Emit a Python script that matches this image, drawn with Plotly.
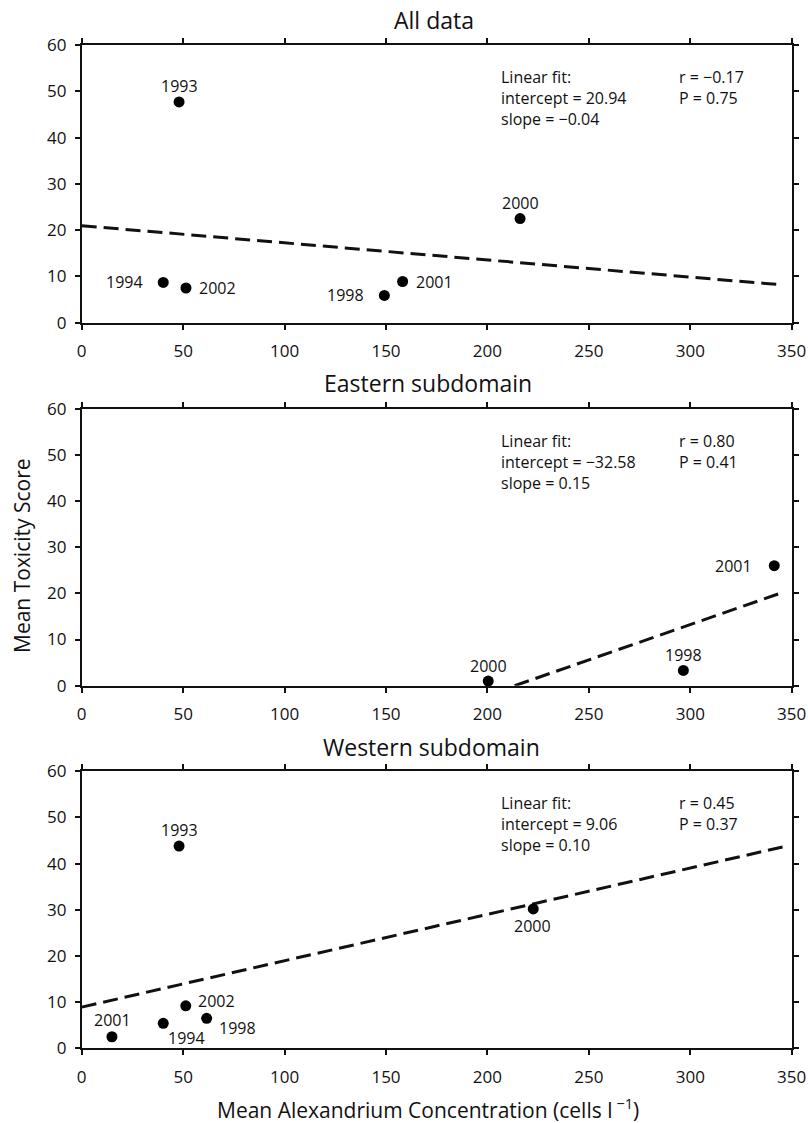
import numpy as np
import plotly.graph_objects as go

# ---------------- data ----------------
x_ticks = [0, 50, 100, 150, 200, 250, 300, 350]
y_ticks = [0, 10, 20, 30, 40, 50, 60]

panel_titles = ["All data", "Eastern subdomain", "Western subdomain"]

years_all = ["1993", "1994", "2002", "1998", "2001", "2000"]
conc_all = [48.0, 40.2, 51.4, 149.2, 158.2, 216.1]
tox_all = [47.7, 8.7, 7.5, 5.9, 8.9, 22.5]

years_east = ["2000", "1998", "2001"]
conc_east = [200.4, 296.6, 341.4]
tox_east = [1.0, 3.3, 26.0]

years_west = ["1993", "2001", "1994", "2002", "1998", "2000"]
conc_west = [48.0, 14.9, 40.2, 51.3, 61.6, 222.6]
tox_west = [43.8, 2.5, 5.4, 9.2, 6.5, 30.2]

fit_text_left = [
    ["Linear fit:", "intercept = 20.94", "slope = −0.04"],
    ["Linear fit:", "intercept = −32.58", "slope = 0.15"],
    ["Linear fit:", "intercept = 9.06", "slope = 0.10"],
]
fit_text_right = [
    ["r = −0.17", "P = 0.75"],
    ["r = 0.80", "P = 0.41"],
    ["r = 0.45", "P = 0.37"],
]
fit_x_end = 345.5

y_title = "Mean Toxicity Score"
x_title = "Mean Alexandrium Concentration (cells l<sup> −1</sup>)"

# ---------------- styles / layout ----------------
W, H = 808, 1123
FONT = "Open Sans"
INK = "#111111"
px_left, px_right = 81.7, 791.7
panel_px = [(45.0, 322.7), (408.7, 685.7), (771.3, 1048.3)]
title_px = [(434.0, 20.0), (428.0, 383.3), (431.0, 746.7)]

# label offsets (xshift, yshift, xanchor) per panel, per point
label_style = [
    [(0, 16, "center"), (-19, 0, "right"), (12, 0, "left"),
     (-19, 0, "right"), (12, 0, "left"), (0, 16, "center")],
    [(0, 15, "center"), (0, 15.5, "center"), (-21, 0, "right")],
    [(0, 16, "center"), (1, 16.5, "center"), (23, -15, "center"),
     (31, 4.5, "center"), (31, -9.5, "center"), (-1, -17, "center")],
]

datasets = [
    (years_all, conc_all, tox_all),
    (years_east, conc_east, tox_east),
    (years_west, conc_west, tox_west),
]

fig = go.Figure()
annotations = []


def px2paper_x(px):
    return px / W


def px2paper_y(py):
    return 1 - py / H


for i, (yrs, xs, ys) in enumerate(datasets):
    n = i + 1
    xa = "x" if n == 1 else f"x{n}"
    ya = "y" if n == 1 else f"y{n}"
    top, bot = panel_px[i]

    # fit line from data
    m, b = np.polyfit(np.array(xs), np.array(ys), 1)
    x0 = 0.0
    if b < 0 and m > 0:
        x0 = -b / m
    fx = np.array([x0, fit_x_end])
    fy = b + m * fx
    fig.add_trace(go.Scatter(
        x=fx, y=fy, mode="lines", xaxis=xa, yaxis=ya,
        line=dict(color=INK, width=3, dash="15px,7px"),
        showlegend=False, hoverinfo="skip"))

    fig.add_trace(go.Scatter(
        x=xs, y=ys, mode="markers", xaxis=xa, yaxis=ya,
        marker=dict(color="black", size=11),
        cliponaxis=False, showlegend=False))

    for j, (yr, xv, yv) in enumerate(zip(yrs, xs, ys)):
        dx, dy, anc = label_style[i][j]
        annotations.append(dict(
            x=xv, y=yv, xref=xa, yref=ya, text=yr, showarrow=False,
            xanchor=anc, yanchor="middle", xshift=dx, yshift=dy,
            borderpad=0, font=dict(family=FONT, size=16, color=INK)))

    # fit statistics text
    for k, line in enumerate(fit_text_left[i]):
        annotations.append(dict(
            x=px2paper_x(500), y=px2paper_y(top + 32 + 21 * k),
            xref="paper", yref="paper", text=line, showarrow=False,
            xanchor="left", yanchor="middle", borderpad=0,
            font=dict(family=FONT, size=16, color=INK)))
    for k, line in enumerate(fit_text_right[i]):
        annotations.append(dict(
            x=px2paper_x(678), y=px2paper_y(top + 32 + 21 * k),
            xref="paper", yref="paper", text=line, showarrow=False,
            xanchor="left", yanchor="middle", borderpad=0,
            font=dict(family=FONT, size=16, color=INK)))

    # panel title
    tx, ty = title_px[i]
    annotations.append(dict(
        x=px2paper_x(tx), y=px2paper_y(ty), xref="paper", yref="paper",
        text=panel_titles[i], showarrow=False, xanchor="center",
        yanchor="middle", font=dict(family=FONT, size=23, color=INK)))

    axis_common = dict(
        showline=True, linecolor=INK, linewidth=1.7, mirror="ticks",
        ticks="outside", ticklen=5, tickwidth=1.5, tickcolor=INK,
        showgrid=False, zeroline=False, automargin=False,
        tickfont=dict(family=FONT, size=17, color=INK))
    fig.layout[f"xaxis{'' if n == 1 else n}"] = dict(
        domain=[px_left / W, px_right / W], anchor=ya, range=[0, 350],
        tickvals=x_ticks, ticklabelstandoff=7, **axis_common)
    fig.layout[f"yaxis{'' if n == 1 else n}"] = dict(
        domain=[1 - bot / H, 1 - top / H], anchor=xa, range=[0, 60],
        tickvals=y_ticks, ticklabelstandoff=5, **axis_common)

annotations.append(dict(
    x=px2paper_x(22), y=px2paper_y(556), xref="paper", yref="paper",
    text=y_title, showarrow=False, textangle=-90, xanchor="center",
    yanchor="middle", font=dict(family=FONT, size=21, color=INK)))
annotations.append(dict(
    x=px2paper_x(427.5), y=px2paper_y(1108), xref="paper", yref="paper",
    text=x_title, showarrow=False, xanchor="center", yanchor="middle",
    font=dict(family=FONT, size=21, color=INK)))

fig.update_layout(
    width=W, height=H, margin=dict(l=0, r=0, t=0, b=0),
    paper_bgcolor="white", plot_bgcolor="white",
    annotations=annotations, showlegend=False,
    font=dict(family=FONT, color=INK))

fig.write_html("out.html")
